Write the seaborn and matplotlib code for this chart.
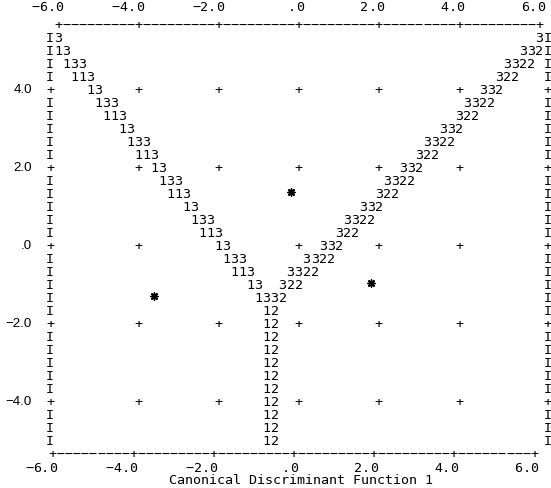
import numpy as np
import pandas as pd
import matplotlib
matplotlib.use("Agg")
import matplotlib.pyplot as plt
import seaborn as sns

# ---------------- data ----------------
x_ticks = [-6.0, -4.0, -2.0, 0.0, 2.0, 4.0, 6.0]
x_tick_labels = ["−6.0", "−4.0", "−2.0", ".0", "2.0", "4.0", "6.0"]
y_ticks = [4.0, 2.0, 0.0, -2.0, -4.0]
y_tick_labels = ["4.0", "2.0", ".0", "−2.0", "−4.0"]
x_label = "Canonical Discriminant Function 1"

# group centroids (function 1, function 2)
centroid_group = ["1", "2", "3"]
centroid_f1 = [-3.6, 1.8, -0.2]
centroid_f2 = [-1.33, -1.0, 1.33]

# territorial-map boundaries: row (function 2), first column (function 1), characters
boundary_f2 = [5.33, 5.33, 5.0, 5.0, 4.67, 4.67, 4.33, 4.33,
               4.0, 4.0, 3.67, 3.67, 3.33, 3.33, 3.0, 3.0,
               2.67, 2.67, 2.33, 2.33, 2.0, 2.0, 1.67, 1.67,
               1.33, 1.33, 1.0, 1.0, 0.67, 0.67, 0.33, 0.33,
               0.0, 0.0, -0.33, -0.33, -0.67, -0.67, -1.0, -1.0,
               -1.33, -1.67, -2.0, -2.33, -2.67, -3.0, -3.33,
               -3.67, -4.0, -4.33, -4.67, -5.0]
boundary_f1 = [-6.0, 6.0, -6.0, 5.6, -5.8, 5.2, -5.6, 5.0,
               -5.2, 4.6, -5.0, 4.2, -4.8, 4.0, -4.4, 3.6,
               -4.2, 3.2, -4.0, 3.0, -3.6, 2.6, -3.4, 2.2,
               -3.2, 2.0, -2.8, 1.6, -2.6, 1.2, -2.4, 1.0,
               -2.0, 0.6, -1.8, 0.2, -1.6, -0.2, -1.2, -0.4,
               -1.0, -0.8, -0.8, -0.8, -0.8, -0.8, -0.8,
               -0.8, -0.8, -0.8, -0.8, -0.8]
boundary_text = ["3", "3", "13", "332", "133", "3322", "113", "322",
                 "13", "332", "133", "3322", "113", "322", "13", "332",
                 "133", "3322", "113", "322", "13", "332", "133", "3322",
                 "113", "322", "13", "332", "133", "3322", "113", "322",
                 "13", "332", "133", "3322", "113", "3322", "13", "322",
                 "1332", "12", "12", "12", "12", "12", "12",
                 "12", "12", "12", "12", "12"]

# ---------------- layout helpers ----------------
MONO = "DejaVu Sans Mono"
FS = 9.6
COL = 0.2          # function-1 units per character column
PX = 40.1          # pixels per function-1 unit
YOFF = -0.03       # small baseline correction


def col_of(f1):
    return int(round((f1 + 6.0) / COL))


def row_of(f2):
    return int(round(17 - 3 * f2))


def x_of(c):
    return -6.0 + COL * c


def y_of(r):
    return (17 - r) / 3.0


sns.set_style("white")
plt.rcParams["font.family"] = [MONO, "DejaVu Sans"]

fig = plt.figure(figsize=(5.51, 4.89), dpi=100)
fig.patch.set_facecolor("white")
ax = fig.add_axes([0, 0, 1, 1])


def put(x, y, ch, **kw):
    ax.text(x, y + YOFF, ch, ha="center", va="center", fontsize=FS,
            family=MONO, color="black", **kw)


tick_cols = [col_of(t) for t in x_ticks]
tick_rows = [row_of(t) for t in y_ticks]

# interior cells
cells = {}
for r in tick_rows:
    for c in tick_cols[1:-1]:
        cells[(c, r)] = "+"
for f2, f1, txt in zip(boundary_f2, boundary_f1, boundary_text):
    r, c0 = row_of(f2), col_of(f1)
    for k, ch in enumerate(txt):
        cells[(c0 + k, r)] = ch
for (c, r), ch in cells.items():
    put(x_of(c), y_of(r), ch)

# left / right borders
top_row, bottom_row = 0, 33
for r in range(top_row + 1, bottom_row):
    ch = "+" if r in tick_rows else "I"
    put(x_of(-1), y_of(r), ch)
    put(x_of(61) + 0.01, y_of(r), ch)

# top and bottom axis lines
for c in range(tick_cols[0], tick_cols[-1] + 1):
    ch = "+" if c in tick_cols else "−"
    put(x_of(c), y_of(top_row), ch)
    put(x_of(c) - 0.13, y_of(bottom_row), ch)

# x tick labels (top and bottom)
for t, lab in zip(x_ticks, x_tick_labels):
    c = col_of(t)
    for k, ch in enumerate(reversed(lab)):
        put(x_of(c) + 0.04 - COL * k, 6.11, ch)
        put(x_of(c) - 0.12 - COL * k, -5.705, ch)

# y tick labels (right aligned, compact proportional font)
for t, lab in zip(y_ticks, y_tick_labels):
    ax.text(-6.0 - 26.0 / PX, t + YOFF, lab, ha="right", va="center",
            fontsize=FS, family="Liberation Sans", color="black")

# axis title
ax.text(0.06, y_of(35) + YOFF, x_label, ha="center", va="center",
        fontsize=FS, family=MONO, color="black")

# group centroids
cent = pd.DataFrame({"f1": centroid_f1, "f2": centroid_f2, "group": centroid_group})
sns.scatterplot(data=cent, x="f1", y="f2", marker=(8, 2, 0), s=26,
                color="black", edgecolor="black", linewidth=1.1,
                legend=False, ax=ax)
ax.set_xlabel("")
ax.set_ylabel("")
ax.axis("off")
ax.set_xlim(-7.4464, 6.2943)
ax.set_ylim(-6.2564, 6.2821)

fig.savefig("out.png", dpi=100, facecolor="white")
